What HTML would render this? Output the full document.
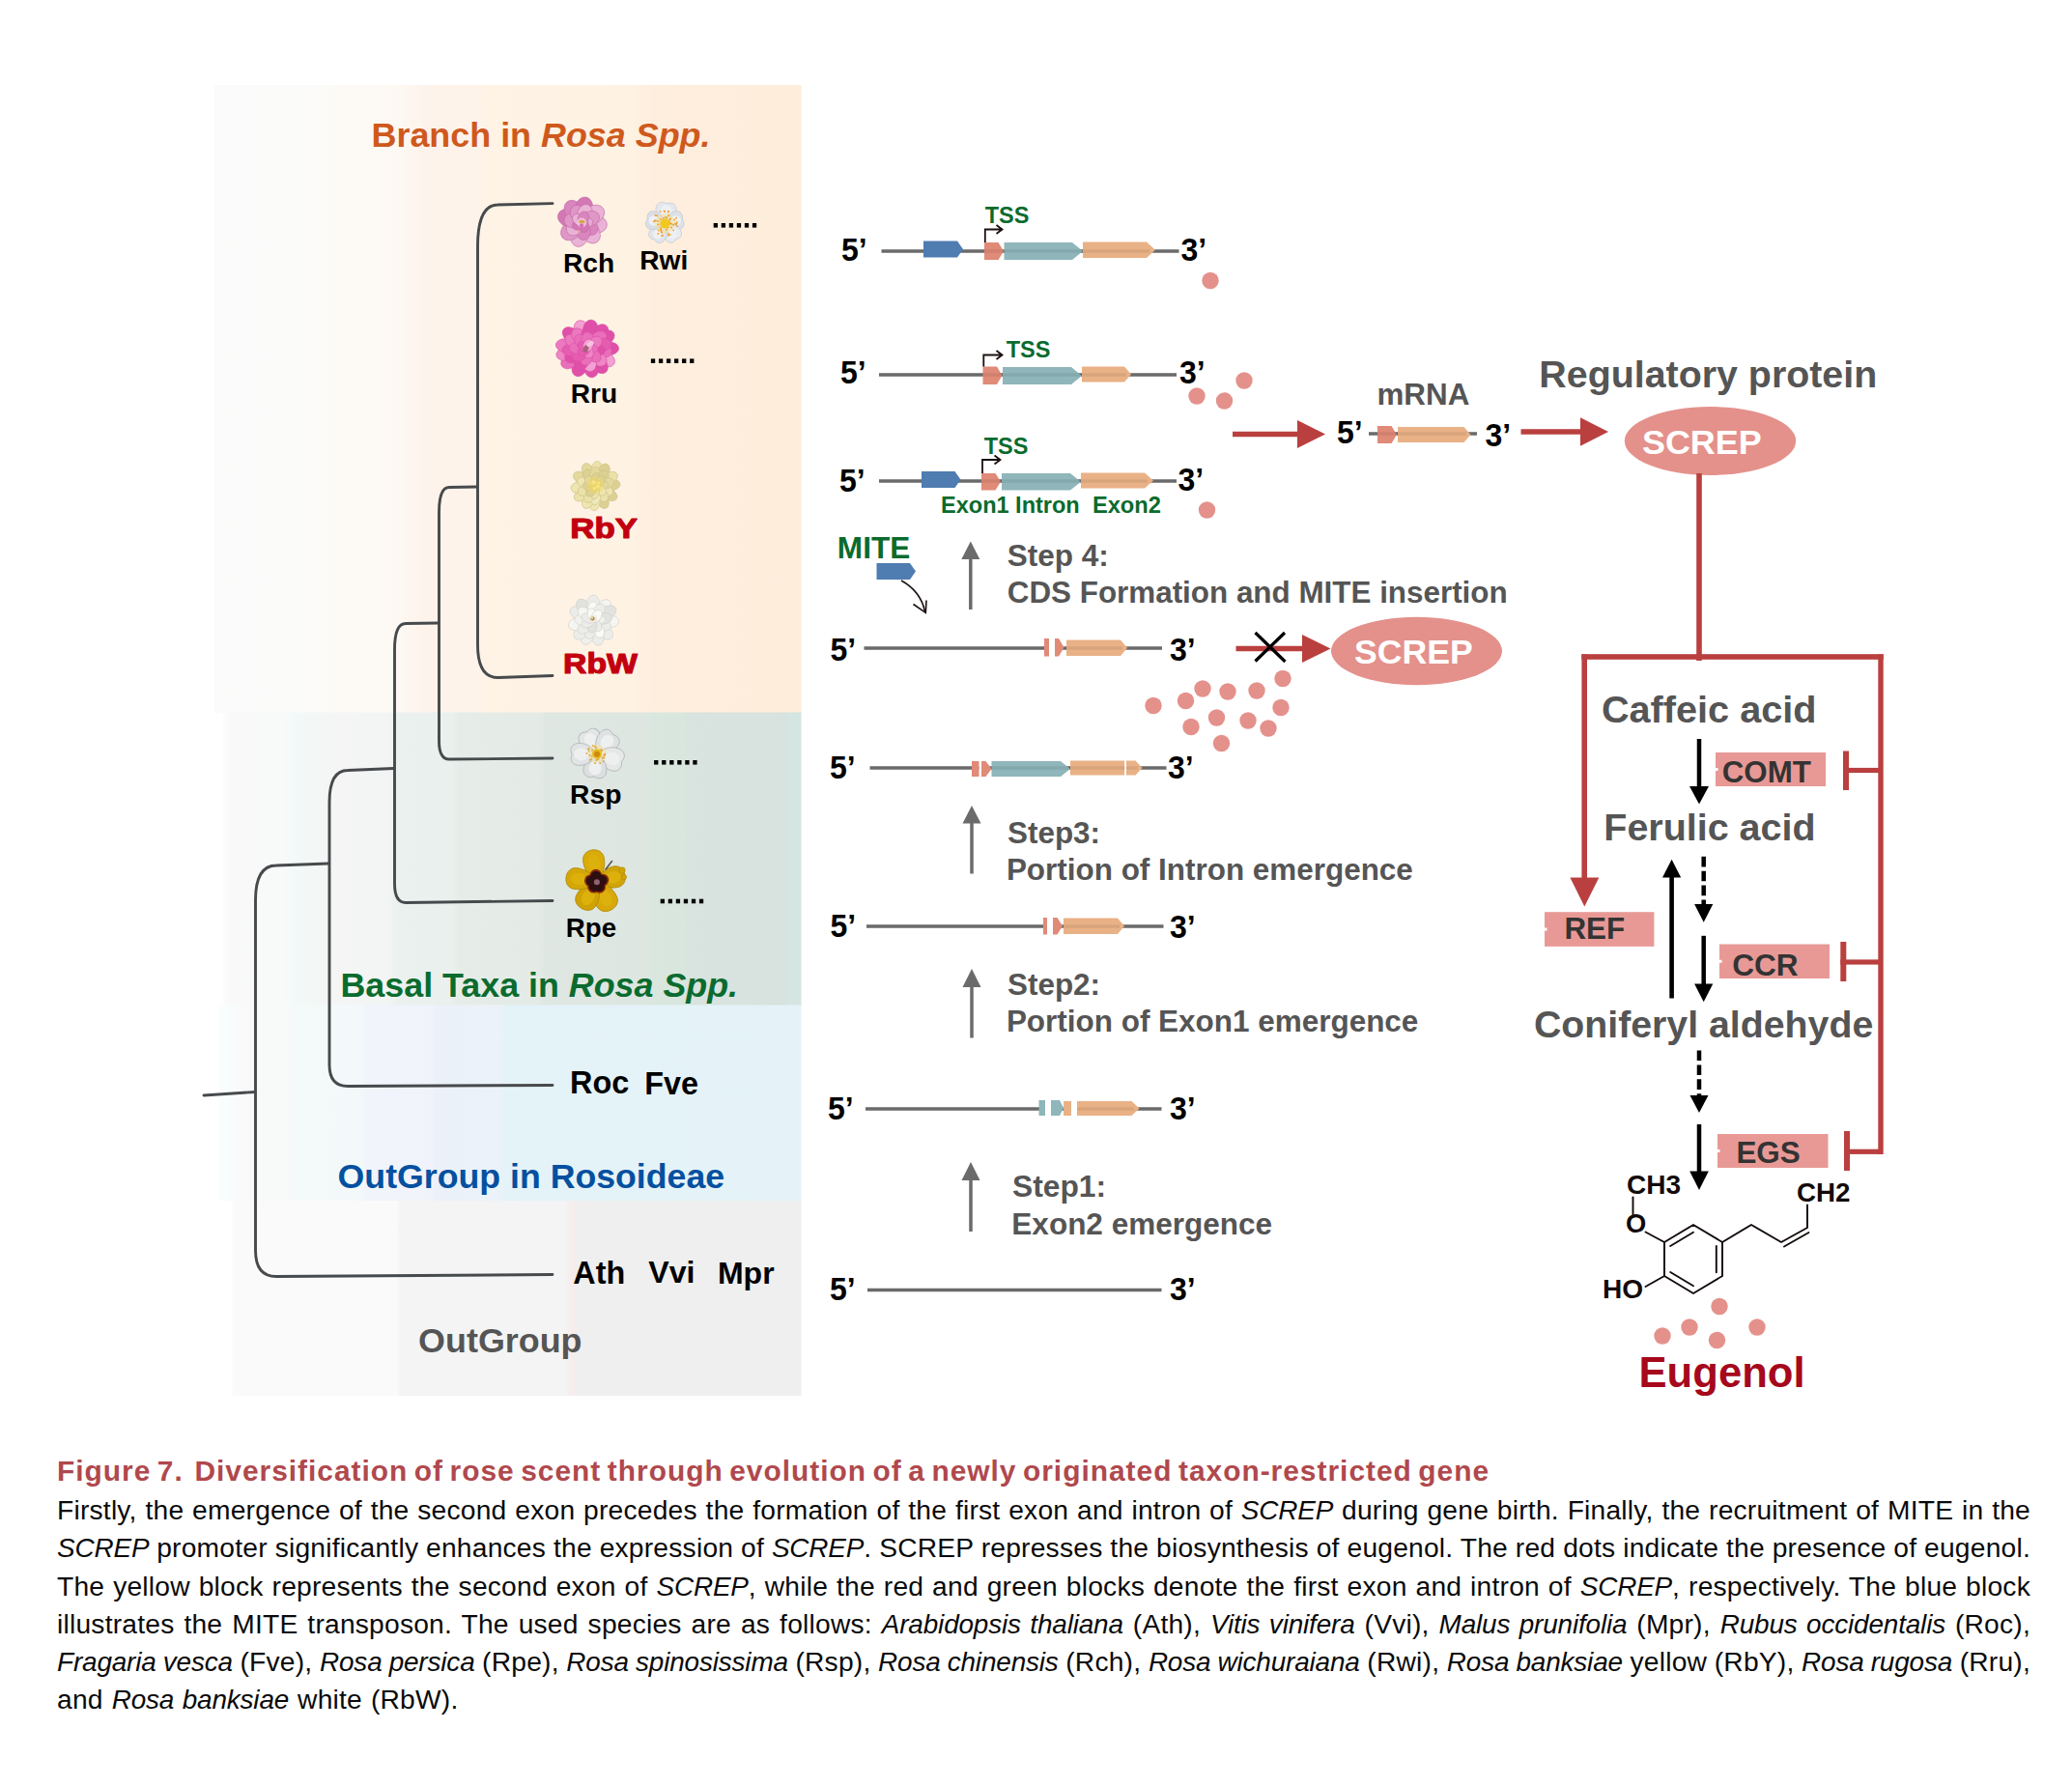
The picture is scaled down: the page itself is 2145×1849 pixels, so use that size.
<!DOCTYPE html>
<html><head><meta charset="utf-8"><title>Figure 7</title>
<style>
html,body{margin:0;padding:0;background:#fff}
body{width:2145px;height:1849px;position:relative;overflow:hidden;font-family:"Liberation Sans", sans-serif}
svg{position:absolute;left:0;top:0;font-family:"Liberation Sans", sans-serif}
.cl{position:absolute;left:59px;width:2043px;white-space:nowrap;font-size:28.2px;line-height:40px;height:40px;color:#0a0a0a;text-align:justify;text-align-last:justify;letter-spacing:0.22px}
.cl i{font-style:italic;letter-spacing:-0.15px;font-size:27.9px}
.ct{color:#b0484d;font-weight:bold;text-align:left;text-align-last:left;letter-spacing:1.0px;word-spacing:-2.8px}
</style></head><body>
<svg width="2145" height="1849" viewBox="0 0 2145 1849">
<defs>
<linearGradient id="gO" gradientUnits="userSpaceOnUse" x1="222" y1="0" x2="829.5" y2="0">
<stop offset="0.0000" stop-color="#fbfbfb"/>
<stop offset="0.1531" stop-color="#fbfbfa"/>
<stop offset="0.2025" stop-color="#fcfaf6"/>
<stop offset="0.3177" stop-color="#fdf8f2"/>
<stop offset="0.3588" stop-color="#fdf3eb"/>
<stop offset="0.4412" stop-color="#fdf3ea"/>
<stop offset="0.4658" stop-color="#fef3e5"/>
<stop offset="0.7128" stop-color="#fef2e3"/>
<stop offset="0.7457" stop-color="#feeedd"/>
<stop offset="1.0000" stop-color="#feeddb"/>
</linearGradient>
<linearGradient id="gG" gradientUnits="userSpaceOnUse" x1="231" y1="0" x2="829.5" y2="0">
<stop offset="0.0000" stop-color="#fdfdfd"/>
<stop offset="0.0117" stop-color="#f9f9f9"/>
<stop offset="0.1069" stop-color="#f8f9f9"/>
<stop offset="0.1236" stop-color="#f3f9f8"/>
<stop offset="0.1738" stop-color="#f3f6f5"/>
<stop offset="0.1905" stop-color="#f5f5f5"/>
<stop offset="0.2824" stop-color="#f2f5f4"/>
<stop offset="0.3024" stop-color="#ebf1ef"/>
<stop offset="0.3960" stop-color="#e9f0ed"/>
<stop offset="0.4077" stop-color="#e6ede9"/>
<stop offset="0.5464" stop-color="#e4ebe7"/>
<stop offset="0.5581" stop-color="#dfe7e3"/>
<stop offset="0.7368" stop-color="#dde6e1"/>
<stop offset="0.7435" stop-color="#d9e7de"/>
<stop offset="0.7970" stop-color="#d9e6de"/>
<stop offset="0.8037" stop-color="#d9e3df"/>
<stop offset="0.9708" stop-color="#d8e2de"/>
<stop offset="0.9774" stop-color="#d4e5e2"/>
<stop offset="1.0000" stop-color="#d4e5e2"/>
</linearGradient>
<linearGradient id="gB" gradientUnits="userSpaceOnUse" x1="227" y1="0" x2="829.5" y2="0">
<stop offset="0.0000" stop-color="#fbfefe"/>
<stop offset="0.0149" stop-color="#f7fdfd"/>
<stop offset="0.0299" stop-color="#fbfafb"/>
<stop offset="0.0465" stop-color="#f9f9f9"/>
<stop offset="0.1178" stop-color="#f8f9f9"/>
<stop offset="0.1278" stop-color="#f4faf9"/>
<stop offset="0.2407" stop-color="#f3f9fa"/>
<stop offset="0.2539" stop-color="#f1f4fb"/>
<stop offset="0.3635" stop-color="#f0f3fb"/>
<stop offset="0.3734" stop-color="#ebf1f9"/>
<stop offset="0.4813" stop-color="#ebf2f9"/>
<stop offset="0.4913" stop-color="#e4f3f8"/>
<stop offset="1.0000" stop-color="#e5f3f9"/>
</linearGradient>
<linearGradient id="gY" gradientUnits="userSpaceOnUse" x1="240.4" y1="0" x2="829.5" y2="0">
<stop offset="0.0000" stop-color="#fafafa"/>
<stop offset="0.2896" stop-color="#fafafa"/>
<stop offset="0.2930" stop-color="#faf3f3"/>
<stop offset="0.2981" stop-color="#f4f4f4"/>
<stop offset="0.5867" stop-color="#f4f4f4"/>
<stop offset="0.5901" stop-color="#f8eeee"/>
<stop offset="0.6036" stop-color="#f3eded"/>
<stop offset="0.6070" stop-color="#efefef"/>
<stop offset="1.0000" stop-color="#efefef"/>
</linearGradient>
</defs>
<rect x="222" y="88" width="607.5" height="650" fill="url(#gO)"/>
<rect x="231" y="737.5" width="598.5" height="303.5" fill="url(#gG)"/>
<rect x="227" y="1040.5" width="602.5" height="203" fill="url(#gB)"/>
<rect x="240.4" y="1243" width="589.1" height="202" fill="url(#gY)"/>
<path d="M572,210.6 L515.5,212 Q494.5,212 494.5,255 L494.5,667.5 Q494.5,701.5 515.5,701.5 L572,699.5" fill="none" stroke="#474a4c" stroke-width="2.9" stroke-linecap="round" stroke-linejoin="round"/>
<path d="M493.5,504 L465,504.5 Q454.5,504.5 454.5,530.5 L454.5,767 Q454.5,786 465,786 L572,785" fill="none" stroke="#474a4c" stroke-width="2.9" stroke-linecap="round" stroke-linejoin="round"/>
<path d="M453.5,645 L420,645.5 Q408.5,645.5 408.5,672.5 L408.5,914.5 Q408.5,934.5 420,934.5 L572,932.5" fill="none" stroke="#474a4c" stroke-width="2.9" stroke-linecap="round" stroke-linejoin="round"/>
<path d="M407.5,795.5 L360,797.5 Q341,797.5 341,830.5 L341,1102.5 Q341,1124.5 360,1124.5 L572,1123.5" fill="none" stroke="#474a4c" stroke-width="2.9" stroke-linecap="round" stroke-linejoin="round"/>
<path d="M340,894 L286,896 Q264.5,896 264.5,932 L264.5,1294.5 Q264.5,1321.5 286,1321.5 L572,1319.5" fill="none" stroke="#474a4c" stroke-width="2.9" stroke-linecap="round" stroke-linejoin="round"/>
<path d="M211,1134 L264,1130.5" stroke="#474a4c" stroke-width="2.9" stroke-linecap="round"/>
<g transform="translate(602.6 229.8) scale(1 1.0) translate(-602.6 -229.8)">
<ellipse cx="616.71" cy="232" rx="11.73" ry="9.18" transform="rotate(8.86 616.71 232)" fill="#e9b3d6" stroke="#c768a8" stroke-width="0.6"/>
<ellipse cx="611.28" cy="241.14" rx="11.73" ry="9.18" transform="rotate(52.57 611.28 241.14)" fill="#e9b3d6" stroke="#c768a8" stroke-width="0.6"/>
<ellipse cx="599.71" cy="243.78" rx="11.73" ry="9.18" transform="rotate(101.69 599.71 243.78)" fill="#e9b3d6" stroke="#c768a8" stroke-width="0.6"/>
<ellipse cx="591.38" cy="238.63" rx="11.73" ry="9.18" transform="rotate(141.79 591.38 238.63)" fill="#de97c6" stroke="#c768a8" stroke-width="0.6"/>
<ellipse cx="588.94" cy="225.65" rx="11.73" ry="9.18" transform="rotate(196.91 588.94 225.65)" fill="#d279b5" stroke="#c768a8" stroke-width="0.6"/>
<ellipse cx="594.23" cy="218.23" rx="11.73" ry="9.18" transform="rotate(234.11 594.23 218.23)" fill="#d886bd" stroke="#c768a8" stroke-width="0.6"/>
<ellipse cx="604.66" cy="215.67" rx="11.73" ry="9.18" transform="rotate(278.3 604.66 215.67)" fill="#d279b5" stroke="#c768a8" stroke-width="0.6"/>
<ellipse cx="614.64" cy="222.13" rx="11.73" ry="9.18" transform="rotate(327.49 614.64 222.13)" fill="#e9b3d6" stroke="#c768a8" stroke-width="0.6"/>
<ellipse cx="610.15" cy="235.03" rx="9.69" ry="7.65" transform="rotate(34.72 610.15 235.03)" fill="#d886bd" stroke="#c768a8" stroke-width="0.6"/>
<ellipse cx="603.69" cy="238.92" rx="9.69" ry="7.65" transform="rotate(83.21 603.69 238.92)" fill="#d886bd" stroke="#c768a8" stroke-width="0.6"/>
<ellipse cx="595.34" cy="235.42" rx="9.69" ry="7.65" transform="rotate(142.27 595.34 235.42)" fill="#e9b3d6" stroke="#c768a8" stroke-width="0.6"/>
<ellipse cx="593.51" cy="228.53" rx="9.69" ry="7.65" transform="rotate(187.96 593.51 228.53)" fill="#de97c6" stroke="#c768a8" stroke-width="0.6"/>
<ellipse cx="598.4" cy="221.64" rx="9.69" ry="7.65" transform="rotate(242.77 598.4 221.64)" fill="#de97c6" stroke="#c768a8" stroke-width="0.6"/>
<ellipse cx="605.45" cy="221.07" rx="9.69" ry="7.65" transform="rotate(288.06 605.45 221.07)" fill="#e9b3d6" stroke="#c768a8" stroke-width="0.6"/>
<ellipse cx="611.12" cy="226.37" rx="9.69" ry="7.65" transform="rotate(338.08 611.12 226.37)" fill="#de97c6" stroke="#c768a8" stroke-width="0.6"/>
<ellipse cx="606.67" cy="230.08" rx="7.14" ry="5.61" transform="rotate(3.88 606.67 230.08)" fill="#e6a9d1" stroke="#c768a8" stroke-width="0.6"/>
<ellipse cx="603.88" cy="233.67" rx="7.14" ry="5.61" transform="rotate(71.67 603.88 233.67)" fill="#d279b5" stroke="#c768a8" stroke-width="0.6"/>
<ellipse cx="599.2" cy="232.05" rx="7.14" ry="5.61" transform="rotate(146.57 599.2 232.05)" fill="#d279b5" stroke="#c768a8" stroke-width="0.6"/>
<ellipse cx="599.25" cy="227.48" rx="7.14" ry="5.61" transform="rotate(214.74 599.25 227.48)" fill="#e9b3d6" stroke="#c768a8" stroke-width="0.6"/>
<ellipse cx="603.82" cy="225.91" rx="7.14" ry="5.61" transform="rotate(287.34 603.82 225.91)" fill="#d886bd" stroke="#c768a8" stroke-width="0.6"/>
</g>
<circle cx="602.3" cy="230.5" r="5" fill="#efcadf" opacity="0.8"/>
<ellipse cx="602.4" cy="229.6" rx="3" ry="1.8" fill="#d9a544"/>
<circle cx="602" cy="233.6" r="2" fill="#d868b4"/>
<circle cx="599.5" cy="240" r="1" fill="#d9a544"/>
<g transform="translate(688.3 230.9) rotate(-85)"><path d="M0,0 C3.3,-5.25 7.26,-10.5 14.52,-10.5 C19.8,-10.5 22.88,-5.78 20.24,0 C22.88,5.78 19.8,10.5 14.52,10.5 C7.26,10.5 3.3,5.25 0,0Z" fill="#e4e8ee" stroke="#c2c8d1" stroke-width="0.7"/><ellipse cx="12.76" cy="0" rx="5.94" ry="5.78" fill="#eef0f4"/></g>
<g transform="translate(688.3 230.9) rotate(-12)"><path d="M0,0 C3,-4.75 6.6,-9.5 13.2,-9.5 C18,-9.5 20.8,-5.23 18.4,0 C20.8,5.23 18,9.5 13.2,9.5 C6.6,9.5 3,4.75 0,0Z" fill="#dde2e9" stroke="#c2c8d1" stroke-width="0.7"/><ellipse cx="11.6" cy="0" rx="5.4" ry="5.23" fill="#eef0f4"/></g>
<g transform="translate(688.3 230.9) rotate(55)"><path d="M0,0 C3.3,-4.5 7.26,-9 14.52,-9 C19.8,-9 22.88,-4.95 20.24,0 C22.88,4.95 19.8,9 14.52,9 C7.26,9 3.3,4.5 0,0Z" fill="#e8ebf0" stroke="#c2c8d1" stroke-width="0.7"/><ellipse cx="12.76" cy="0" rx="5.94" ry="4.95" fill="#eef0f4"/></g>
<g transform="translate(688.3 230.9) rotate(122)"><path d="M0,0 C3.3,-4.5 7.26,-9 14.52,-9 C19.8,-9 22.88,-4.95 20.24,0 C22.88,4.95 19.8,9 14.52,9 C7.26,9 3.3,4.5 0,0Z" fill="#e1e5ec" stroke="#c2c8d1" stroke-width="0.7"/><ellipse cx="12.76" cy="0" rx="5.94" ry="4.95" fill="#eef0f4"/></g>
<g transform="translate(688.3 230.9) rotate(192)"><path d="M0,0 C3,-4.75 6.6,-9.5 13.2,-9.5 C18,-9.5 20.8,-5.23 18.4,0 C20.8,5.23 18,9.5 13.2,9.5 C6.6,9.5 3,4.75 0,0Z" fill="#dadfe7" stroke="#c2c8d1" stroke-width="0.7"/><ellipse cx="11.6" cy="0" rx="5.4" ry="5.23" fill="#eef0f4"/></g>
<circle cx="688.3" cy="231.2" r="10.5" fill="#f5dc7c" opacity="0.40"/>
<circle cx="680.2" cy="223.31" r="0.95" fill="#f0a030"/>
<circle cx="691.95" cy="218.71" r="0.95" fill="#f0a030"/>
<circle cx="687.49" cy="218.39" r="0.95" fill="#f0a030"/>
<circle cx="697.11" cy="232.82" r="0.95" fill="#f0a030"/>
<circle cx="698.16" cy="227.54" r="0.95" fill="#f0a030"/>
<circle cx="693.14" cy="227.72" r="0.95" fill="#f0a030"/>
<circle cx="681.34" cy="232.57" r="0.95" fill="#f0a030"/>
<circle cx="678.79" cy="228.52" r="0.95" fill="#f0a030"/>
<circle cx="695.12" cy="231.76" r="0.95" fill="#f0a030"/>
<circle cx="685.94" cy="243.77" r="0.95" fill="#f0a030"/>
<circle cx="688.93" cy="224.87" r="0.95" fill="#f0a030"/>
<circle cx="690.1" cy="225.29" r="0.95" fill="#f0a030"/>
<circle cx="683.8" cy="227.11" r="0.95" fill="#f0a030"/>
<circle cx="700.71" cy="231.34" r="0.95" fill="#f0a030"/>
<circle cx="690.02" cy="237.81" r="0.95" fill="#f0a030"/>
<circle cx="700.64" cy="229.83" r="0.95" fill="#f0a030"/>
<circle cx="685.08" cy="243.97" r="0.95" fill="#f0a030"/>
<circle cx="677.86" cy="228.57" r="0.95" fill="#f0a030"/>
<circle cx="691.94" cy="243.68" r="0.95" fill="#f0a030"/>
<circle cx="683.48" cy="218.89" r="0.95" fill="#f0a030"/>
<circle cx="694.22" cy="226.53" r="0.95" fill="#f0a030"/>
<circle cx="684.18" cy="236.11" r="0.95" fill="#f0a030"/>
<circle cx="691.68" cy="235.6" r="0.95" fill="#f0a030"/>
<circle cx="685.09" cy="240.8" r="0.95" fill="#f0a030"/>
<circle cx="699.06" cy="231.43" r="0.95" fill="#f0a030"/>
<circle cx="684.29" cy="237.7" r="0.95" fill="#f0a030"/>
<circle cx="692.09" cy="222.94" r="0.95" fill="#f0a030"/>
<circle cx="684.65" cy="239.52" r="0.95" fill="#f0a030"/>
<circle cx="686.76" cy="225.94" r="0.95" fill="#f0a030"/>
<circle cx="693.43" cy="230.39" r="0.95" fill="#f0a030"/>
<circle cx="688.28" cy="219.02" r="0.95" fill="#f0a030"/>
<circle cx="699.92" cy="232.52" r="0.95" fill="#f0a030"/>
<circle cx="681.69" cy="238.59" r="0.95" fill="#f0a030"/>
<circle cx="693.69" cy="231.51" r="0.95" fill="#f0a030"/>
<circle cx="693.82" cy="243.1" r="0.95" fill="#f0a030"/>
<circle cx="692.07" cy="241.98" r="0.95" fill="#f0a030"/>
<circle cx="700.06" cy="225.64" r="0.95" fill="#f0a030"/>
<circle cx="683.82" cy="237.85" r="0.95" fill="#f0a030"/>
<circle cx="676.85" cy="229.41" r="0.95" fill="#f0a030"/>
<circle cx="697.14" cy="238.33" r="0.95" fill="#f0a030"/>
<circle cx="691.9" cy="219.43" r="0.95" fill="#f0a030"/>
<circle cx="701" cy="234.17" r="0.95" fill="#f0a030"/>
<circle cx="694.94" cy="235.48" r="0.95" fill="#f0a030"/>
<circle cx="678.48" cy="222.99" r="0.95" fill="#f0a030"/>
<circle cx="681.41" cy="242.06" r="0.95" fill="#f0a030"/>
<circle cx="680.95" cy="229.06" r="0.95" fill="#f0a030"/>
<circle cx="688.3" cy="231.4" r="5" fill="#f2c81f"/>
<g transform="translate(607.8 361) scale(1 0.92) translate(-607.8 -361)">
<ellipse cx="630.55" cy="360.77" rx="10.07" ry="7.48" transform="rotate(-0.57 630.55 360.77)" fill="#e050a8" stroke="#d94fa4" stroke-width="0.6"/>
<ellipse cx="627.1" cy="373.05" rx="10.07" ry="7.48" transform="rotate(31.97 627.1 373.05)" fill="#f3a0d2" stroke="#d94fa4" stroke-width="0.6"/>
<ellipse cx="620.91" cy="379.59" rx="10.07" ry="7.48" transform="rotate(54.81 620.91 379.59)" fill="#e050a8" stroke="#d94fa4" stroke-width="0.6"/>
<ellipse cx="612" cy="383.36" rx="10.07" ry="7.48" transform="rotate(79.36 612 383.36)" fill="#e050a8" stroke="#d94fa4" stroke-width="0.6"/>
<ellipse cx="599.84" cy="382.31" rx="10.07" ry="7.48" transform="rotate(110.48 599.84 382.31)" fill="#e050a8" stroke="#d94fa4" stroke-width="0.6"/>
<ellipse cx="589.88" cy="375.01" rx="10.07" ry="7.48" transform="rotate(141.98 589.88 375.01)" fill="#ea6fbb" stroke="#d94fa4" stroke-width="0.6"/>
<ellipse cx="585.77" cy="366.69" rx="10.07" ry="7.48" transform="rotate(165.51 585.77 366.69)" fill="#ef86c6" stroke="#d94fa4" stroke-width="0.6"/>
<ellipse cx="585.33" cy="357.47" rx="10.07" ry="7.48" transform="rotate(188.93 585.33 357.47)" fill="#ec78c0" stroke="#d94fa4" stroke-width="0.6"/>
<ellipse cx="591.2" cy="345.44" rx="10.07" ry="7.48" transform="rotate(223.15 591.2 345.44)" fill="#e050a8" stroke="#d94fa4" stroke-width="0.6"/>
<ellipse cx="601.92" cy="339.02" rx="10.07" ry="7.48" transform="rotate(255.02 601.92 339.02)" fill="#f3a0d2" stroke="#d94fa4" stroke-width="0.6"/>
<ellipse cx="611.27" cy="338.52" rx="10.07" ry="7.48" transform="rotate(278.77 611.27 338.52)" fill="#e050a8" stroke="#d94fa4" stroke-width="0.6"/>
<ellipse cx="621.31" cy="342.69" rx="10.07" ry="7.48" transform="rotate(306.42 621.31 342.69)" fill="#e050a8" stroke="#d94fa4" stroke-width="0.6"/>
<ellipse cx="626.77" cy="348.44" rx="10.07" ry="7.48" transform="rotate(326.49 626.77 348.44)" fill="#e050a8" stroke="#d94fa4" stroke-width="0.6"/>
<ellipse cx="623.81" cy="363.75" rx="9.75" ry="7.15" transform="rotate(9.76 623.81 363.75)" fill="#ea6fbb" stroke="#d94fa4" stroke-width="0.6"/>
<ellipse cx="619.49" cy="372.29" rx="9.75" ry="7.15" transform="rotate(44.01 619.49 372.29)" fill="#ef86c6" stroke="#d94fa4" stroke-width="0.6"/>
<ellipse cx="610.16" cy="377.08" rx="9.75" ry="7.15" transform="rotate(81.65 610.16 377.08)" fill="#f3a0d2" stroke="#d94fa4" stroke-width="0.6"/>
<ellipse cx="601.95" cy="376.16" rx="9.75" ry="7.15" transform="rotate(111.1 601.95 376.16)" fill="#e050a8" stroke="#d94fa4" stroke-width="0.6"/>
<ellipse cx="593.72" cy="369.12" rx="9.75" ry="7.15" transform="rotate(150.02 593.72 369.12)" fill="#e050a8" stroke="#d94fa4" stroke-width="0.6"/>
<ellipse cx="591.6" cy="362.29" rx="9.75" ry="7.15" transform="rotate(175.44 591.6 362.29)" fill="#e65cb0" stroke="#d94fa4" stroke-width="0.6"/>
<ellipse cx="593.92" cy="352.54" rx="9.75" ry="7.15" transform="rotate(211.36 593.92 352.54)" fill="#ec78c0" stroke="#d94fa4" stroke-width="0.6"/>
<ellipse cx="599.46" cy="347.05" rx="9.75" ry="7.15" transform="rotate(239.11 599.46 347.05)" fill="#ec78c0" stroke="#d94fa4" stroke-width="0.6"/>
<ellipse cx="608.98" cy="344.79" rx="9.75" ry="7.15" transform="rotate(274.16 608.98 344.79)" fill="#e050a8" stroke="#d94fa4" stroke-width="0.6"/>
<ellipse cx="619.39" cy="349.61" rx="9.75" ry="7.15" transform="rotate(315.49 619.39 349.61)" fill="#ea6fbb" stroke="#d94fa4" stroke-width="0.6"/>
<ellipse cx="623.48" cy="356.73" rx="9.75" ry="7.15" transform="rotate(344.77 623.48 356.73)" fill="#e65cb0" stroke="#d94fa4" stroke-width="0.6"/>
<ellipse cx="617.45" cy="362.37" rx="9.1" ry="6.5" transform="rotate(8.1 617.45 362.37)" fill="#e050a8" stroke="#d94fa4" stroke-width="0.6"/>
<ellipse cx="614.39" cy="368.18" rx="9.1" ry="6.5" transform="rotate(47.47 614.39 368.18)" fill="#ea6fbb" stroke="#d94fa4" stroke-width="0.6"/>
<ellipse cx="606.82" cy="370.7" rx="9.1" ry="6.5" transform="rotate(95.76 606.82 370.7)" fill="#ea6fbb" stroke="#d94fa4" stroke-width="0.6"/>
<ellipse cx="600.46" cy="367.42" rx="9.1" ry="6.5" transform="rotate(138.8 600.46 367.42)" fill="#e65cb0" stroke="#d94fa4" stroke-width="0.6"/>
<ellipse cx="598.07" cy="360.38" rx="9.1" ry="6.5" transform="rotate(183.64 598.07 360.38)" fill="#ea6fbb" stroke="#d94fa4" stroke-width="0.6"/>
<ellipse cx="602.09" cy="353.1" rx="9.1" ry="6.5" transform="rotate(234.17 602.09 353.1)" fill="#ea6fbb" stroke="#d94fa4" stroke-width="0.6"/>
<ellipse cx="608.07" cy="351.25" rx="9.1" ry="6.5" transform="rotate(271.56 608.07 351.25)" fill="#ea6fbb" stroke="#d94fa4" stroke-width="0.6"/>
<ellipse cx="615.23" cy="354.69" rx="9.1" ry="6.5" transform="rotate(319.64 615.23 354.69)" fill="#ec78c0" stroke="#d94fa4" stroke-width="0.6"/>
<ellipse cx="611.7" cy="360.92" rx="7.15" ry="5.2" transform="rotate(-1.23 611.7 360.92)" fill="#ea6fbb" stroke="#d94fa4" stroke-width="0.6"/>
<ellipse cx="608.95" cy="364.73" rx="7.15" ry="5.2" transform="rotate(72.79 608.95 364.73)" fill="#ef86c6" stroke="#d94fa4" stroke-width="0.6"/>
<ellipse cx="604.52" cy="363.1" rx="7.15" ry="5.2" transform="rotate(147.34 604.52 363.1)" fill="#e65cb0" stroke="#d94fa4" stroke-width="0.6"/>
<ellipse cx="604.57" cy="358.82" rx="7.15" ry="5.2" transform="rotate(214.04 604.57 358.82)" fill="#e65cb0" stroke="#d94fa4" stroke-width="0.6"/>
<ellipse cx="608.87" cy="357.25" rx="7.15" ry="5.2" transform="rotate(285.99 608.87 357.25)" fill="#f3a0d2" stroke="#d94fa4" stroke-width="0.6"/>
</g>
<ellipse cx="606.5" cy="361" rx="2.6" ry="4.2" fill="#a8607c" transform="rotate(20 606.5 361)"/>
<ellipse cx="611" cy="356" rx="4" ry="2.4" fill="#f7c3e2" transform="rotate(-30 611 356)"/>
<g transform="translate(616.4 503) scale(1 1.0) translate(-616.4 -503)">
<ellipse cx="633.12" cy="501.82" rx="8.89" ry="5.84" transform="rotate(-4.02 633.12 501.82)" fill="#dcd192" stroke="#cbc088" stroke-width="0.6"/>
<ellipse cx="630.68" cy="511.79" rx="8.89" ry="5.84" transform="rotate(31.62 630.68 511.79)" fill="#dcd192" stroke="#cbc088" stroke-width="0.6"/>
<ellipse cx="623.72" cy="518.08" rx="8.89" ry="5.84" transform="rotate(64.12 623.72 518.08)" fill="#dcd192" stroke="#cbc088" stroke-width="0.6"/>
<ellipse cx="615.32" cy="519.73" rx="8.89" ry="5.84" transform="rotate(93.69 615.32 519.73)" fill="#eee5b0" stroke="#cbc088" stroke-width="0.6"/>
<ellipse cx="609" cy="518.04" rx="8.89" ry="5.84" transform="rotate(116.2 609 518.04)" fill="#eee5b0" stroke="#cbc088" stroke-width="0.6"/>
<ellipse cx="602.37" cy="512.17" rx="8.89" ry="5.84" transform="rotate(146.83 602.37 512.17)" fill="#ebe2aa" stroke="#cbc088" stroke-width="0.6"/>
<ellipse cx="599.72" cy="504.7" rx="8.89" ry="5.84" transform="rotate(174.17 599.72 504.7)" fill="#eee5b0" stroke="#cbc088" stroke-width="0.6"/>
<ellipse cx="601.76" cy="494.84" rx="8.89" ry="5.84" transform="rotate(209.14 601.76 494.84)" fill="#e3d99c" stroke="#cbc088" stroke-width="0.6"/>
<ellipse cx="608.93" cy="487.99" rx="8.89" ry="5.84" transform="rotate(243.53 608.93 487.99)" fill="#e3d99c" stroke="#cbc088" stroke-width="0.6"/>
<ellipse cx="617.88" cy="486.3" rx="8.89" ry="5.84" transform="rotate(275.06 617.88 486.3)" fill="#ebe2aa" stroke="#cbc088" stroke-width="0.6"/>
<ellipse cx="624.59" cy="488.37" rx="8.89" ry="5.84" transform="rotate(299.24 624.59 488.37)" fill="#dcd192" stroke="#cbc088" stroke-width="0.6"/>
<ellipse cx="631.12" cy="494.97" rx="8.89" ry="5.84" transform="rotate(331.39 631.12 494.97)" fill="#ebe2aa" stroke="#cbc088" stroke-width="0.6"/>
<ellipse cx="626.88" cy="507.55" rx="8.13" ry="5.59" transform="rotate(23.48 626.88 507.55)" fill="#eee5b0" stroke="#cbc088" stroke-width="0.6"/>
<ellipse cx="623.12" cy="512.24" rx="8.13" ry="5.59" transform="rotate(53.97 623.12 512.24)" fill="#ebe2aa" stroke="#cbc088" stroke-width="0.6"/>
<ellipse cx="616.04" cy="514.42" rx="8.13" ry="5.59" transform="rotate(91.79 616.04 514.42)" fill="#f0e8bc" stroke="#cbc088" stroke-width="0.6"/>
<ellipse cx="610.64" cy="512.87" rx="8.13" ry="5.59" transform="rotate(120.28 610.64 512.87)" fill="#ebe2aa" stroke="#cbc088" stroke-width="0.6"/>
<ellipse cx="605.84" cy="507.37" rx="8.13" ry="5.59" transform="rotate(157.5 605.84 507.37)" fill="#ebe2aa" stroke="#cbc088" stroke-width="0.6"/>
<ellipse cx="605.5" cy="499.57" rx="8.13" ry="5.59" transform="rotate(197.44 605.5 499.57)" fill="#eee5b0" stroke="#cbc088" stroke-width="0.6"/>
<ellipse cx="610.13" cy="493.44" rx="8.13" ry="5.59" transform="rotate(236.74 610.13 493.44)" fill="#dcd192" stroke="#cbc088" stroke-width="0.6"/>
<ellipse cx="616.36" cy="491.57" rx="8.13" ry="5.59" transform="rotate(269.82 616.36 491.57)" fill="#e3d99c" stroke="#cbc088" stroke-width="0.6"/>
<ellipse cx="623.43" cy="493.99" rx="8.13" ry="5.59" transform="rotate(307.98 623.43 493.99)" fill="#dcd192" stroke="#cbc088" stroke-width="0.6"/>
<ellipse cx="627.51" cy="500.31" rx="8.13" ry="5.59" transform="rotate(346.39 627.51 500.31)" fill="#e3d99c" stroke="#cbc088" stroke-width="0.6"/>
<ellipse cx="622.98" cy="502.41" rx="6.86" ry="4.83" transform="rotate(-5.1 622.98 502.41)" fill="#e3d99c" stroke="#cbc088" stroke-width="0.6"/>
<ellipse cx="621.35" cy="507.38" rx="6.86" ry="4.83" transform="rotate(41.5 621.35 507.38)" fill="#eee5b0" stroke="#cbc088" stroke-width="0.6"/>
<ellipse cx="615.73" cy="509.57" rx="6.86" ry="4.83" transform="rotate(95.87 615.73 509.57)" fill="#ebe2aa" stroke="#cbc088" stroke-width="0.6"/>
<ellipse cx="612.11" cy="508.02" rx="6.86" ry="4.83" transform="rotate(130.47 612.11 508.02)" fill="#dcd192" stroke="#cbc088" stroke-width="0.6"/>
<ellipse cx="609.8" cy="502.92" rx="6.86" ry="4.83" transform="rotate(180.71 609.8 502.92)" fill="#dcd192" stroke="#cbc088" stroke-width="0.6"/>
<ellipse cx="611.45" cy="498.63" rx="6.86" ry="4.83" transform="rotate(221.41 611.45 498.63)" fill="#e3d99c" stroke="#cbc088" stroke-width="0.6"/>
<ellipse cx="616.94" cy="496.42" rx="6.86" ry="4.83" transform="rotate(274.65 616.94 496.42)" fill="#dcd192" stroke="#cbc088" stroke-width="0.6"/>
<ellipse cx="620.86" cy="498.13" rx="6.86" ry="4.83" transform="rotate(312.5 620.86 498.13)" fill="#dcd192" stroke="#cbc088" stroke-width="0.6"/>
</g>
<circle cx="616.5" cy="502.5" r="9" fill="#f0d664" opacity="0.45"/>
<circle cx="616.5" cy="502.5" r="5.5" fill="#efd462" opacity="0.8"/>
<circle cx="614.5" cy="499.5" r="2.2" fill="#f5e388"/>
<circle cx="619" cy="503.5" r="2" fill="#f5e388"/>
<circle cx="615.5" cy="505.5" r="1.8" fill="#f5e388"/>
<circle cx="619.5" cy="500" r="1.6" fill="#f5e388"/>
<g transform="translate(614.2 642.4) scale(1 1.0) translate(-614.2 -642.4)">
<ellipse cx="630.96" cy="643.03" rx="9.69" ry="6.55" transform="rotate(2.15 630.96 643.03)" fill="#f5f5f1" stroke="#cfcfca" stroke-width="0.6"/>
<ellipse cx="626.28" cy="654.03" rx="9.69" ry="6.55" transform="rotate(43.89 626.28 654.03)" fill="#ececea" stroke="#cfcfca" stroke-width="0.6"/>
<ellipse cx="618.35" cy="658.65" rx="9.69" ry="6.55" transform="rotate(75.66 618.35 658.65)" fill="#ececea" stroke="#cfcfca" stroke-width="0.6"/>
<ellipse cx="608.03" cy="657.99" rx="9.69" ry="6.55" transform="rotate(111.59 608.03 657.99)" fill="#f0f0ec" stroke="#cfcfca" stroke-width="0.6"/>
<ellipse cx="602.2" cy="654.11" rx="9.69" ry="6.55" transform="rotate(135.69 602.2 654.11)" fill="#ececea" stroke="#cfcfca" stroke-width="0.6"/>
<ellipse cx="597.84" cy="646.06" rx="9.69" ry="6.55" transform="rotate(167.41 597.84 646.06)" fill="#f5f5f1" stroke="#cfcfca" stroke-width="0.6"/>
<ellipse cx="599.17" cy="634.97" rx="9.69" ry="6.55" transform="rotate(206.31 599.17 634.97)" fill="#ececea" stroke="#cfcfca" stroke-width="0.6"/>
<ellipse cx="604.31" cy="628.86" rx="9.69" ry="6.55" transform="rotate(233.86 604.31 628.86)" fill="#e2e2df" stroke="#cfcfca" stroke-width="0.6"/>
<ellipse cx="614.24" cy="625.63" rx="9.69" ry="6.55" transform="rotate(270.13 614.24 625.63)" fill="#ececea" stroke="#cfcfca" stroke-width="0.6"/>
<ellipse cx="624.64" cy="629.28" rx="9.69" ry="6.55" transform="rotate(308.5 624.64 629.28)" fill="#f5f5f1" stroke="#cfcfca" stroke-width="0.6"/>
<ellipse cx="628.82" cy="634.19" rx="9.69" ry="6.55" transform="rotate(330.69 628.82 634.19)" fill="#e2e2df" stroke="#cfcfca" stroke-width="0.6"/>
<ellipse cx="624.32" cy="646.72" rx="8.65" ry="5.76" transform="rotate(23.1 624.32 646.72)" fill="#ececea" stroke="#cfcfca" stroke-width="0.6"/>
<ellipse cx="619.2" cy="652.2" rx="8.65" ry="5.76" transform="rotate(62.96 619.2 652.2)" fill="#f9f9f6" stroke="#cfcfca" stroke-width="0.6"/>
<ellipse cx="611.14" cy="652.97" rx="8.65" ry="5.76" transform="rotate(106.16 611.14 652.97)" fill="#ececea" stroke="#cfcfca" stroke-width="0.6"/>
<ellipse cx="605.59" cy="649.25" rx="8.65" ry="5.76" transform="rotate(141.52 605.59 649.25)" fill="#ececea" stroke="#cfcfca" stroke-width="0.6"/>
<ellipse cx="603.22" cy="641.63" rx="8.65" ry="5.76" transform="rotate(184 603.22 641.63)" fill="#f0f0ec" stroke="#cfcfca" stroke-width="0.6"/>
<ellipse cx="605.74" cy="635.37" rx="8.65" ry="5.76" transform="rotate(219.72 605.74 635.37)" fill="#f5f5f1" stroke="#cfcfca" stroke-width="0.6"/>
<ellipse cx="614.02" cy="631.4" rx="8.65" ry="5.76" transform="rotate(269.06 614.02 631.4)" fill="#f9f9f6" stroke="#cfcfca" stroke-width="0.6"/>
<ellipse cx="619.8" cy="632.93" rx="8.65" ry="5.76" transform="rotate(300.62 619.8 632.93)" fill="#ececea" stroke="#cfcfca" stroke-width="0.6"/>
<ellipse cx="625" cy="640.31" rx="8.65" ry="5.76" transform="rotate(349.04 625 640.31)" fill="#e2e2df" stroke="#cfcfca" stroke-width="0.6"/>
<ellipse cx="619.94" cy="641.83" rx="7.07" ry="4.72" transform="rotate(-5.64 619.94 641.83)" fill="#f0f0ec" stroke="#cfcfca" stroke-width="0.6"/>
<ellipse cx="617.44" cy="647.17" rx="7.07" ry="4.72" transform="rotate(55.85 617.44 647.17)" fill="#ececea" stroke="#cfcfca" stroke-width="0.6"/>
<ellipse cx="613.26" cy="648.09" rx="7.07" ry="4.72" transform="rotate(99.35 613.26 648.09)" fill="#e2e2df" stroke="#cfcfca" stroke-width="0.6"/>
<ellipse cx="608.89" cy="644.65" rx="7.07" ry="4.72" transform="rotate(157.04 608.89 644.65)" fill="#ececea" stroke="#cfcfca" stroke-width="0.6"/>
<ellipse cx="608.92" cy="640.08" rx="7.07" ry="4.72" transform="rotate(203.68 608.92 640.08)" fill="#ececea" stroke="#cfcfca" stroke-width="0.6"/>
<ellipse cx="612.9" cy="636.79" rx="7.07" ry="4.72" transform="rotate(256.93 612.9 636.79)" fill="#f9f9f6" stroke="#cfcfca" stroke-width="0.6"/>
<ellipse cx="617.64" cy="637.77" rx="7.07" ry="4.72" transform="rotate(306.6 617.64 637.77)" fill="#f9f9f6" stroke="#cfcfca" stroke-width="0.6"/>
</g>
<circle cx="613.8" cy="640.8" r="4" fill="#efe9d6"/>
<circle cx="613.5" cy="640.5" r="2.1" fill="#a88b52"/>
<circle cx="613" cy="640" r="0.9" fill="#f3ecd8"/>
<g transform="translate(618 780.3) rotate(-115)"><path d="M0,0 C4.05,-5.75 8.91,-11.5 17.82,-11.5 C24.3,-11.5 28.08,-6.33 24.84,0 C28.08,6.33 24.3,11.5 17.82,11.5 C8.91,11.5 4.05,5.75 0,0Z" fill="#e3e6e6" stroke="#b4b9b9" stroke-width="0.9"/><ellipse cx="15.66" cy="0" rx="7.29" ry="6.33" fill="#eef0f0"/></g>
<g transform="translate(618 780.3) rotate(-50)"><path d="M0,0 C4.2,-5.75 9.24,-11.5 18.48,-11.5 C25.2,-11.5 29.12,-6.33 25.76,0 C29.12,6.33 25.2,11.5 18.48,11.5 C9.24,11.5 4.2,5.75 0,0Z" fill="#dfe2e3" stroke="#b4b9b9" stroke-width="0.9"/><ellipse cx="16.24" cy="0" rx="7.56" ry="6.33" fill="#eef0f0"/></g>
<g transform="translate(618 780.3) rotate(18)"><path d="M0,0 C4.35,-6 9.57,-12 19.14,-12 C26.1,-12 30.16,-6.6 26.68,0 C30.16,6.6 26.1,12 19.14,12 C9.57,12 4.35,6 0,0Z" fill="#e6e8e8" stroke="#b4b9b9" stroke-width="0.9"/><ellipse cx="16.82" cy="0" rx="7.83" ry="6.6" fill="#eef0f0"/></g>
<g transform="translate(618 780.3) rotate(97)"><path d="M0,0 C3.9,-6 8.58,-12 17.16,-12 C23.4,-12 27.04,-6.6 23.92,0 C27.04,6.6 23.4,12 17.16,12 C8.58,12 3.9,6 0,0Z" fill="#dcdfe0" stroke="#b4b9b9" stroke-width="0.9"/><ellipse cx="15.08" cy="0" rx="7.02" ry="6.6" fill="#eef0f0"/></g>
<g transform="translate(618 780.3) rotate(178)"><path d="M0,0 C4.2,-5.75 9.24,-11.5 18.48,-11.5 C25.2,-11.5 29.12,-6.33 25.76,0 C29.12,6.33 25.2,11.5 18.48,11.5 C9.24,11.5 4.2,5.75 0,0Z" fill="#e1e4e4" stroke="#b4b9b9" stroke-width="0.9"/><ellipse cx="16.24" cy="0" rx="7.56" ry="6.33" fill="#eef0f0"/></g>
<circle cx="618" cy="780.3" r="9.5" fill="#f3e3a8" opacity="0.55"/>
<circle cx="610.65" cy="782.04" r="0.95" fill="#e2a43a"/>
<circle cx="624.62" cy="788.15" r="0.95" fill="#e2a43a"/>
<circle cx="626.26" cy="780.63" r="0.95" fill="#e2a43a"/>
<circle cx="622.77" cy="776.75" r="0.95" fill="#e2a43a"/>
<circle cx="609.62" cy="777.33" r="0.95" fill="#e2a43a"/>
<circle cx="625.34" cy="782.23" r="0.95" fill="#e2a43a"/>
<circle cx="615.7" cy="772.65" r="0.95" fill="#e2a43a"/>
<circle cx="617.01" cy="774.01" r="0.95" fill="#e2a43a"/>
<circle cx="618.46" cy="786.39" r="0.95" fill="#e2a43a"/>
<circle cx="607.43" cy="779.88" r="0.95" fill="#e2a43a"/>
<circle cx="609.78" cy="775.05" r="0.95" fill="#e2a43a"/>
<circle cx="610.85" cy="786.71" r="0.95" fill="#e2a43a"/>
<circle cx="623.7" cy="784.53" r="0.95" fill="#e2a43a"/>
<circle cx="613.65" cy="771.86" r="0.95" fill="#e2a43a"/>
<circle cx="612.73" cy="783.12" r="0.95" fill="#e2a43a"/>
<circle cx="617.3" cy="786.92" r="0.95" fill="#e2a43a"/>
<circle cx="616.06" cy="790.06" r="0.95" fill="#e2a43a"/>
<circle cx="621.24" cy="790.16" r="0.95" fill="#e2a43a"/>
<circle cx="622.21" cy="776.31" r="0.95" fill="#e2a43a"/>
<circle cx="612.06" cy="785.96" r="0.95" fill="#e2a43a"/>
<circle cx="625.75" cy="781.45" r="0.95" fill="#e2a43a"/>
<circle cx="623.09" cy="776.91" r="0.95" fill="#e2a43a"/>
<circle cx="612.94" cy="776.77" r="0.95" fill="#e2a43a"/>
<circle cx="608.82" cy="775.35" r="0.95" fill="#e2a43a"/>
<circle cx="619.61" cy="785.61" r="0.95" fill="#e2a43a"/>
<circle cx="625.33" cy="784.54" r="0.95" fill="#e2a43a"/>
<circle cx="618" cy="780.5" r="5" fill="#e6b91e"/>
<circle cx="618" cy="780.7" r="3" fill="#cf8a0c"/>
<g transform="translate(617.7 912.6) rotate(-98)"><path d="M0,0 C4.95,-5.5 10.89,-11 22.44,-11 C29.7,-11 33,-5.5 33,0 C33,5.5 29.7,11 22.44,11 C10.89,11 4.95,5.5 0,0Z" fill="#d8ab08" stroke="#b08808" stroke-width="0.8"/><ellipse cx="19.14" cy="0" rx="8.91" ry="6.05" fill="#ddb10c"/></g>
<g transform="translate(617.7 912.6) rotate(-14)"><path d="M0,0 C4.5,-5.5 9.9,-11 20.4,-11 C27,-11 30,-5.5 30,0 C30,5.5 27,11 20.4,11 C9.9,11 4.5,5.5 0,0Z" fill="#d1a407" stroke="#b08808" stroke-width="0.8"/><ellipse cx="17.4" cy="0" rx="8.1" ry="6.05" fill="#ddb10c"/></g>
<g transform="translate(617.7 912.6) rotate(63)"><path d="M0,0 C4.95,-5.75 10.89,-11.5 22.44,-11.5 C29.7,-11.5 33,-5.75 33,0 C33,5.75 29.7,11.5 22.44,11.5 C10.89,11.5 4.95,5.75 0,0Z" fill="#d6a908" stroke="#b08808" stroke-width="0.8"/><ellipse cx="19.14" cy="0" rx="8.91" ry="6.33" fill="#ddb10c"/></g>
<g transform="translate(617.7 912.6) rotate(119)"><path d="M0,0 C4.8,-5.75 10.56,-11.5 21.76,-11.5 C28.8,-11.5 32,-5.75 32,0 C32,5.75 28.8,11.5 21.76,11.5 C10.56,11.5 4.8,5.75 0,0Z" fill="#cfa206" stroke="#b08808" stroke-width="0.8"/><ellipse cx="18.56" cy="0" rx="8.64" ry="6.33" fill="#ddb10c"/></g>
<g transform="translate(617.7 912.6) rotate(188)"><path d="M0,0 C4.8,-5.5 10.56,-11 21.76,-11 C28.8,-11 32,-5.5 32,0 C32,5.5 28.8,11 21.76,11 C10.56,11 4.8,5.5 0,0Z" fill="#d4a707" stroke="#b08808" stroke-width="0.8"/><ellipse cx="18.56" cy="0" rx="8.64" ry="6.05" fill="#ddb10c"/></g>
<circle cx="644" cy="901" r="3.2" fill="#d1a407" stroke="#b08808" stroke-width="0.6"/>
<circle cx="646" cy="908" r="2.6" fill="#d1a407" stroke="#b08808" stroke-width="0.6"/>
<circle cx="616.8" cy="906.16" r="6.3" fill="#8a2a08"/>
<circle cx="624.01" cy="911.03" r="6.3" fill="#8a2a08"/>
<circle cx="620.65" cy="918.39" r="6.3" fill="#8a2a08"/>
<circle cx="614.55" cy="918.29" r="6.3" fill="#8a2a08"/>
<circle cx="611.26" cy="911.7" r="6.3" fill="#8a2a08"/>
<circle cx="616.92" cy="907.05" r="5.4" fill="#2d0f11"/>
<circle cx="623.13" cy="911.25" r="5.4" fill="#2d0f11"/>
<circle cx="620.24" cy="917.59" r="5.4" fill="#2d0f11"/>
<circle cx="614.99" cy="917.5" r="5.4" fill="#2d0f11"/>
<circle cx="612.15" cy="911.82" r="5.4" fill="#2d0f11"/>
<circle cx="617.7" cy="912.6" r="7" fill="#2d0f11"/>
<circle cx="617.9" cy="913.2" r="3" fill="#8f6373"/>
<path d="M627,900 L633.5,891.5" stroke="#5a5248" stroke-width="1.6" stroke-linecap="round"/>
<text x="384.5" y="152.3" font-size="35.9" fill="#cf591d" font-weight="bold">Branch in <tspan font-style="italic">Rosa Spp.</tspan></text>
<text x="352.5" y="1032.3" font-size="35.85" fill="#0b6b2e" font-weight="bold">Basal Taxa in <tspan font-style="italic">Rosa Spp.</tspan></text>
<text x="349.6" y="1229.8" font-size="35.7" fill="#05509f" font-weight="bold">OutGroup in Rosoideae</text>
<text x="433.1" y="1400.3" font-size="35.9" fill="#555" font-weight="bold">OutGroup</text>
<text x="582.9" y="281.5" font-size="28.18" fill="#000" font-weight="bold">Rch</text>
<text x="662.2" y="279.3" font-size="28.17" fill="#000" font-weight="bold">Rwi</text>
<text x="590.7" y="416.5" font-size="28.11" fill="#000" font-weight="bold">Rru</text>
<text x="590.09" y="832.2" font-size="28.26" fill="#000" font-weight="bold">Rsp</text>
<text x="585.83" y="970" font-size="27.69" fill="#000" font-weight="bold">Rpe</text>
<text x="590.01" y="1131.5" font-size="32.41" fill="#000" font-weight="bold">Roc</text>
<text x="667.22" y="1132.5" font-size="32.36" fill="#000" font-weight="bold">Fve</text>
<text x="593.29" y="1328.5" font-size="32.34" fill="#000" font-weight="bold">Ath</text>
<text x="671.26" y="1328.3" font-size="32.2" fill="#000" font-weight="bold">Vvi</text>
<text x="742.94" y="1328.5" font-size="32.01" fill="#000" font-weight="bold">Mpr</text>
<text x="590.3" y="557.3" font-size="30.2" fill="#c3000f" font-weight="bold" textLength="69.7" lengthAdjust="spacingAndGlyphs" stroke="#c3000f" stroke-width="1.15" stroke-linejoin="round">RbY</text>
<text x="583" y="697.4" font-size="30.2" fill="#c3000f" font-weight="bold" textLength="77" lengthAdjust="spacingAndGlyphs" stroke="#c3000f" stroke-width="1.15" stroke-linejoin="round">RbW</text>
<rect x="738.7" y="231" width="4.3" height="4.6" fill="#000"/>
<rect x="746.74" y="231" width="4.3" height="4.6" fill="#000"/>
<rect x="754.78" y="231" width="4.3" height="4.6" fill="#000"/>
<rect x="762.82" y="231" width="4.3" height="4.6" fill="#000"/>
<rect x="770.86" y="231" width="4.3" height="4.6" fill="#000"/>
<rect x="778.9" y="231" width="4.3" height="4.6" fill="#000"/>
<rect x="673.9" y="371.4" width="4.3" height="4.6" fill="#000"/>
<rect x="681.94" y="371.4" width="4.3" height="4.6" fill="#000"/>
<rect x="689.98" y="371.4" width="4.3" height="4.6" fill="#000"/>
<rect x="698.02" y="371.4" width="4.3" height="4.6" fill="#000"/>
<rect x="706.06" y="371.4" width="4.3" height="4.6" fill="#000"/>
<rect x="714.1" y="371.4" width="4.3" height="4.6" fill="#000"/>
<rect x="677.1" y="787" width="4.3" height="4.6" fill="#000"/>
<rect x="685.14" y="787" width="4.3" height="4.6" fill="#000"/>
<rect x="693.18" y="787" width="4.3" height="4.6" fill="#000"/>
<rect x="701.22" y="787" width="4.3" height="4.6" fill="#000"/>
<rect x="709.26" y="787" width="4.3" height="4.6" fill="#000"/>
<rect x="717.3" y="787" width="4.3" height="4.6" fill="#000"/>
<rect x="683.7" y="930.7" width="4.3" height="4.6" fill="#000"/>
<rect x="691.74" y="930.7" width="4.3" height="4.6" fill="#000"/>
<rect x="699.78" y="930.7" width="4.3" height="4.6" fill="#000"/>
<rect x="707.82" y="930.7" width="4.3" height="4.6" fill="#000"/>
<rect x="715.86" y="930.7" width="4.3" height="4.6" fill="#000"/>
<rect x="723.9" y="930.7" width="4.3" height="4.6" fill="#000"/>
<text x="871.04" y="270.3" font-size="32" fill="#000" font-weight="bold" transform="matrix(1 0 0 1.04 0 -10.81)">5’</text>
<text x="1222.5" y="270.3" font-size="32" fill="#000" font-weight="bold" transform="matrix(1 0 0 1.04 0 -10.81)">3’</text>
<rect x="912.5" y="258.25" width="308" height="3.5" fill="#6a6a6a"/>
<polygon points="956,249.5 991,249.5 997,258 991,266.5 956,266.5" fill="#4f7cb1"/>
<polygon points="1019,251 1033.5,251 1039,260 1033.5,269 1019,269" fill="#e08a78"/>
<polygon points="1039.5,251 1110,251 1121,260 1110,269 1039.5,269" fill="#8fb6ba"/>
<polygon points="1121,250.5 1187,250.5 1196,258.75 1187,267 1121,267" fill="#e9b186"/>
<rect x="1019" y="258.25" width="171" height="3.5" fill="#000" opacity="0.07"/>
<path d="M1019.8,251 L1019.8,237.5 L1037.5,237.5 M1031.5,233 L1037.5,237.5 L1031.5,242" fill="none" stroke="#1a0f0f" stroke-width="1.8"/>
<text x="1019.77" y="231.3" font-size="23.48" fill="#0a6b2d" font-weight="bold">TSS</text>
<circle cx="1253" cy="290.5" r="8.7" fill="#e4918b"/>
<text x="870.04" y="397.3" font-size="32" fill="#000" font-weight="bold" transform="matrix(1 0 0 1.04 0 -15.89)">5’</text>
<text x="1221" y="396.8" font-size="32" fill="#000" font-weight="bold" transform="matrix(1 0 0 1.04 0 -15.87)">3’</text>
<rect x="910" y="386.25" width="308" height="3.5" fill="#6a6a6a"/>
<polygon points="1017.5,379.5 1032,379.5 1037.5,388.75 1032,398 1017.5,398" fill="#e08a78"/>
<polygon points="1038,380 1109,380 1120,389 1109,398 1038,398" fill="#8fb6ba"/>
<polygon points="1120,379.5 1164,379.5 1171,387.5 1164,395.5 1120,395.5" fill="#e9b186"/>
<rect x="1017.5" y="386.25" width="148.5" height="3.5" fill="#000" opacity="0.07"/>
<path d="M1018.3,379.5 L1018.3,367.5 L1037.5,367.5 M1031.5,363 L1037.5,367.5 L1031.5,372" fill="none" stroke="#1a0f0f" stroke-width="1.8"/>
<text x="1041.77" y="369.8" font-size="23.48" fill="#0a6b2d" font-weight="bold">TSS</text>
<circle cx="1288" cy="394" r="8.7" fill="#e4918b"/>
<circle cx="1239" cy="410" r="8.7" fill="#e4918b"/>
<circle cx="1267.5" cy="415" r="8.7" fill="#e4918b"/>
<text x="869.04" y="508.8" font-size="32" fill="#000" font-weight="bold" transform="matrix(1 0 0 1.04 0 -20.35)">5’</text>
<text x="1219.5" y="508.3" font-size="32" fill="#000" font-weight="bold" transform="matrix(1 0 0 1.04 0 -20.33)">3’</text>
<rect x="910" y="496.25" width="308" height="3.5" fill="#6a6a6a"/>
<polygon points="954,488 988.5,488 994.5,496.5 988.5,505 954,505" fill="#4f7cb1"/>
<polygon points="1016,490 1030.5,490 1036,498.75 1030.5,507.5 1016,507.5" fill="#e08a78"/>
<polygon points="1037,490 1108,490 1119,498.75 1108,507.5 1037,507.5" fill="#8fb6ba"/>
<polygon points="1119,489.5 1185,489.5 1194,497.5 1185,505.5 1119,505.5" fill="#e9b186"/>
<rect x="1016" y="496.25" width="172" height="3.5" fill="#000" opacity="0.07"/>
<path d="M1017,490 L1017,476 L1035.5,476 M1029.5,471.5 L1035.5,476 L1029.5,480.5" fill="none" stroke="#1a0f0f" stroke-width="1.8"/>
<text x="1018.77" y="469.8" font-size="23.48" fill="#0a6b2d" font-weight="bold">TSS</text>
<text x="974.01" y="530.7" font-size="23.52" fill="#0a6b2d" font-weight="bold">Exon1 Intron</text>
<text x="1130.9" y="530.7" font-size="23.68" fill="#0a6b2d" font-weight="bold">Exon2</text>
<circle cx="1249.5" cy="528" r="8.7" fill="#e4918b"/>
<text x="866.87" y="577.8" font-size="31.54" fill="#0a6b2d" font-weight="bold">MITE</text>
<polygon points="907.5,583 942,583 948,591.5 942,600 907.5,600" fill="#4f7cb1"/>
<path d="M933,601 Q953,612 957.5,633" fill="none" stroke="#1a0f0f" stroke-width="1.6"/>
<path d="M945.5,625.5 L958.3,634.3 L959,621.5" fill="none" stroke="#1a0f0f" stroke-width="1.6"/>
<polygon points="1004.8,560.5 1014.3,579 995.3,579" fill="#6b6b6b"/>
<rect x="1003.05" y="578" width="3.5" height="53" fill="#6b6b6b"/>
<text x="1042.86" y="586" font-size="31.49" fill="#555555" font-weight="bold">Step 4:</text>
<text x="1042.74" y="624" font-size="31.4" fill="#555555" font-weight="bold">CDS Formation and MITE insertion</text>
<text x="859.54" y="683.8" font-size="32" fill="#000" font-weight="bold" transform="matrix(1 0 0 1.04 0 -27.35)">5’</text>
<text x="1211" y="684.3" font-size="32" fill="#000" font-weight="bold" transform="matrix(1 0 0 1.04 0 -27.37)">3’</text>
<rect x="894.5" y="669.25" width="308.5" height="3.5" fill="#6a6a6a"/>
<rect x="1086" y="668" width="6" height="6" fill="#fff"/>
<rect x="1081" y="661" width="5" height="18.5" fill="#e08a78"/>
<polygon points="1092,661 1096,661 1101.5,670.25 1096,679.5 1092,679.5" fill="#e08a78"/>
<polygon points="1104,662.5 1160,662.5 1167,670.75 1160,679 1104,679" fill="#e9b186"/>
<rect x="1104" y="669.25" width="58" height="3.5" fill="#000" opacity="0.07"/>
<rect x="1279.5" y="668.75" width="69.5" height="5.5" fill="#b9403f"/>
<polygon points="1377.5,671.5 1348,657 1348,686" fill="#b9403f"/>
<path d="M1299.5,655 L1330.5,685 M1330,655 L1299.5,684.5" stroke="#000" stroke-width="3.2" fill="none"/>
<ellipse cx="1466.5" cy="674" rx="88.5" ry="35.2" fill="#e4918b"/>
<text x="1401.93" y="686.5" font-size="35.65" fill="#fff" font-weight="bold">SCREP</text>
<circle cx="1328" cy="702.5" r="8.7" fill="#e4918b"/>
<circle cx="1245" cy="713" r="8.7" fill="#e4918b"/>
<circle cx="1271" cy="716" r="8.7" fill="#e4918b"/>
<circle cx="1301" cy="715" r="8.7" fill="#e4918b"/>
<circle cx="1227.5" cy="725.5" r="8.7" fill="#e4918b"/>
<circle cx="1194" cy="730.5" r="8.7" fill="#e4918b"/>
<circle cx="1326" cy="732.5" r="8.7" fill="#e4918b"/>
<circle cx="1259.5" cy="743" r="8.7" fill="#e4918b"/>
<circle cx="1292" cy="746" r="8.7" fill="#e4918b"/>
<circle cx="1233" cy="752.5" r="8.7" fill="#e4918b"/>
<circle cx="1313" cy="754" r="8.7" fill="#e4918b"/>
<circle cx="1264.5" cy="769.5" r="8.7" fill="#e4918b"/>
<text x="859.04" y="805.8" font-size="32" fill="#000" font-weight="bold" transform="matrix(1 0 0 1.04 0 -32.23)">5’</text>
<text x="1209" y="806.3" font-size="32" fill="#000" font-weight="bold" transform="matrix(1 0 0 1.04 0 -32.25)">3’</text>
<rect x="900.5" y="793.25" width="307" height="3.5" fill="#6a6a6a"/>
<rect x="1013.5" y="792" width="2.5" height="6" fill="#fff"/>
<rect x="1006" y="788" width="7.5" height="16" fill="#e08a78"/>
<polygon points="1016,788 1020.5,788 1026.5,796 1020.5,804 1016,804" fill="#e08a78"/>
<polygon points="1026.5,788 1098,788 1108,796 1098,804 1026.5,804" fill="#8fb6ba"/>
<rect x="1108" y="787.5" width="56.2" height="15" fill="#e9b186"/>
<polygon points="1166,787.5 1175.5,787.5 1182.5,795 1175.5,802.5 1166,802.5" fill="#e9b186"/>
<rect x="1026" y="793.25" width="152" height="3.5" fill="#000" opacity="0.07"/>
<rect x="1164.2" y="787" width="1.8" height="16" fill="#fff"/>
<polygon points="1006,834 1015.5,852.5 996.5,852.5" fill="#6b6b6b"/>
<rect x="1004.25" y="851.5" width="3.5" height="53" fill="#6b6b6b"/>
<text x="1043.06" y="872.8" font-size="31.4" fill="#555555" font-weight="bold">Step3:</text>
<text x="1041.88" y="910.7" font-size="31.45" fill="#555555" font-weight="bold">Portion of Intron emergence</text>
<text x="859.54" y="970.3" font-size="32" fill="#000" font-weight="bold" transform="matrix(1 0 0 1.04 0 -38.81)">5’</text>
<text x="1211" y="970.8" font-size="32" fill="#000" font-weight="bold" transform="matrix(1 0 0 1.04 0 -38.83)">3’</text>
<rect x="897" y="957.25" width="307.5" height="3.5" fill="#6a6a6a"/>
<rect x="1084" y="956" width="6" height="6" fill="#fff"/>
<rect x="1080" y="950" width="4" height="17.5" fill="#e08a78"/>
<polygon points="1090,950 1094.5,950 1100,958.75 1094.5,967.5 1090,967.5" fill="#e08a78"/>
<polygon points="1101,950.5 1157,950.5 1164,958.75 1157,967 1101,967" fill="#e9b186"/>
<rect x="1101" y="957.25" width="58" height="3.5" fill="#000" opacity="0.07"/>
<polygon points="1006,1003 1015.5,1022 996.5,1022" fill="#6b6b6b"/>
<rect x="1004.25" y="1021" width="3.5" height="53.5" fill="#6b6b6b"/>
<text x="1043.06" y="1030.3" font-size="31.4" fill="#555555" font-weight="bold">Step2:</text>
<text x="1041.88" y="1068.2" font-size="31.46" fill="#555555" font-weight="bold">Portion of Exon1 emergence</text>
<text x="857.04" y="1158.8" font-size="32" fill="#000" font-weight="bold" transform="matrix(1 0 0 1.04 0 -46.35)">5’</text>
<text x="1211" y="1158.8" font-size="32" fill="#000" font-weight="bold" transform="matrix(1 0 0 1.04 0 -46.35)">3’</text>
<rect x="896" y="1146.25" width="306.5" height="3.5" fill="#6a6a6a"/>
<rect x="1082" y="1145" width="6" height="6" fill="#fff"/>
<rect x="1109" y="1145" width="6" height="6" fill="#fff"/>
<rect x="1075.5" y="1139" width="6.5" height="16" fill="#8fb6ba"/>
<polygon points="1088,1139 1097,1139 1101,1147 1097,1155 1088,1155" fill="#8fb6ba"/>
<rect x="1101" y="1140" width="8" height="15" fill="#e9b186"/>
<polygon points="1115,1140 1171.5,1140 1179.5,1147.5 1171.5,1155 1115,1155" fill="#e9b186"/>
<rect x="1115" y="1146.25" width="59" height="3.5" fill="#000" opacity="0.07"/>
<polygon points="1005,1203 1014.5,1222 995.5,1222" fill="#6b6b6b"/>
<rect x="1003.25" y="1221" width="3.5" height="54" fill="#6b6b6b"/>
<text x="1048.05" y="1239.2" font-size="31.74" fill="#555555" font-weight="bold">Step1:</text>
<text x="1047.37" y="1277.7" font-size="31.51" fill="#555555" font-weight="bold">Exon2 emergence</text>
<text x="859.04" y="1346.3" font-size="32" fill="#000" font-weight="bold" transform="matrix(1 0 0 1.04 0 -53.85)">5’</text>
<text x="1211" y="1346.3" font-size="32" fill="#000" font-weight="bold" transform="matrix(1 0 0 1.04 0 -53.85)">3’</text>
<rect x="898" y="1333.75" width="304.5" height="3.5" fill="#6a6a6a"/>
<rect x="1276" y="446.75" width="68" height="5.5" fill="#b9403f"/>
<polygon points="1372,449.5 1343,435 1343,464" fill="#b9403f"/>
<text x="1384.04" y="459.3" font-size="32" fill="#000" font-weight="bold" transform="matrix(1 0 0 1.04 0 -18.37)">5’</text>
<rect x="1417" y="447.25" width="112" height="3.5" fill="#6a6a6a"/>
<polygon points="1426,441 1440.5,441 1446,450 1440.5,459 1426,459" fill="#e08a78"/>
<polygon points="1447,442 1515.5,442 1522.5,450 1515.5,458 1447,458" fill="#e9b186"/>
<rect x="1426" y="447.25" width="92" height="3.5" fill="#000" opacity="0.07"/>
<text x="1537.5" y="461.8" font-size="32" fill="#000" font-weight="bold" transform="matrix(1 0 0 1.04 0 -18.47)">3’</text>
<text x="1425.46" y="419.3" font-size="31.39" fill="#555555" font-weight="bold">mRNA</text>
<rect x="1574.5" y="444.25" width="62.5" height="5.5" fill="#b9403f"/>
<polygon points="1665,447 1636,432.3 1636,461.7" fill="#b9403f"/>
<text x="1593.34" y="400.7" font-size="39.37" fill="#555555" font-weight="bold">Regulatory protein</text>
<ellipse cx="1770.5" cy="456.5" rx="88.7" ry="35.5" fill="#e4918b"/>
<text x="1699.92" y="470.3" font-size="35.95" fill="#fff" font-weight="bold">SCREP</text>
<rect x="1756.2" y="490" width="5.6" height="194" fill="#b9403f"/>
<rect x="1637.3" y="677.2" width="312.5" height="5.6" fill="#b9403f"/>
<rect x="1637.4" y="677.5" width="5.6" height="232.5" fill="#b9403f"/>
<polygon points="1625.4,908.5 1655.3,908.5 1640.3,938.4" fill="#b9403f"/>
<rect x="1944.3" y="677.5" width="5.4" height="517.5" fill="#b9403f"/>
<rect x="1908" y="794.9" width="39" height="5.2" fill="#b9403f"/>
<rect x="1908" y="777.5" width="6" height="40.5" fill="#b9403f"/>
<rect x="1905.3" y="993.4" width="41.7" height="5.2" fill="#b9403f"/>
<rect x="1905.3" y="975" width="6" height="41" fill="#b9403f"/>
<rect x="1909" y="1189.7" width="38" height="5.2" fill="#b9403f"/>
<rect x="1909" y="1171" width="6" height="41" fill="#b9403f"/>
<text x="1657.91" y="748.2" font-size="39.67" fill="#555555" font-weight="bold">Caffeic acid</text>
<text x="1660.34" y="870.2" font-size="39.45" fill="#555555" font-weight="bold">Ferulic acid</text>
<text x="1587.93" y="1074.2" font-size="39.28" fill="#555555" font-weight="bold">Coniferyl aldehyde</text>
<rect x="1776" y="779" width="114" height="35" fill="#e89996"/>
<rect x="1775.5" y="795" width="3" height="3" fill="#fff"/>
<text x="1782.75" y="809.7" font-size="31.29" fill="#333" font-weight="bold">COMT</text>
<rect x="1599" y="944.2" width="113.4" height="35.7" fill="#e89996"/>
<rect x="1598.5" y="960.55" width="3" height="3" fill="#fff"/>
<text x="1619.38" y="972.2" font-size="31.36" fill="#333" font-weight="bold">REF</text>
<rect x="1780" y="977.5" width="114" height="35.5" fill="#e89996"/>
<rect x="1779.5" y="993.75" width="3" height="3" fill="#fff"/>
<text x="1793.24" y="1009.7" font-size="31.59" fill="#333" font-weight="bold">CCR</text>
<rect x="1778" y="1174" width="114.5" height="35" fill="#e89996"/>
<rect x="1777.5" y="1190" width="3" height="3" fill="#fff"/>
<text x="1797.38" y="1204.2" font-size="31.42" fill="#333" font-weight="bold">EGS</text>
<polygon points="1759,832.5 1769,814 1749,814" fill="#000"/>
<rect x="1756.75" y="765" width="4.5" height="50" fill="#000"/>
<polygon points="1730.6,889.7 1740.2,908.5 1721,908.5" fill="#000"/>
<rect x="1728.3" y="907.5" width="4.6" height="126" fill="#000"/>
<polygon points="1763.7,954.8 1773.3,936 1754.1,936" fill="#000"/>
<line x1="1763.7" y1="886.8" x2="1763.7" y2="937" stroke="#000" stroke-width="4.5" stroke-dasharray="10.6 4.3"/>
<polygon points="1763.7,1037.3 1773.3,1018.5 1754.1,1018.5" fill="#000"/>
<rect x="1761.45" y="968.8" width="4.5" height="50.7" fill="#000"/>
<polygon points="1759,1152 1768.5,1134 1749.5,1134" fill="#000"/>
<line x1="1759" y1="1087.5" x2="1759" y2="1135" stroke="#000" stroke-width="4.5" stroke-dasharray="10.6 4.3"/>
<polygon points="1759,1232 1768.8,1212.5 1749.2,1212.5" fill="#000"/>
<rect x="1756.75" y="1164" width="4.5" height="49.5" fill="#000"/>
<g fill="none" stroke="#130a0a" stroke-width="1.9" stroke-linecap="round" stroke-linejoin="round">
<path d="M1723,1286 L1753,1268 L1783,1286 L1783,1321 L1753,1339 L1723,1321 Z"/>
<path d="M1729.2,1290 L1753,1275.8 M1776.8,1290 L1776.8,1317.2 M1729.2,1317 L1753,1331.2"/>
<path d="M1703.5,1275.5 L1723,1286 M1703.5,1332 L1723,1321"/>
<path d="M1690.5,1239.5 L1690.5,1257.5"/>
<path d="M1783,1286 L1813,1268 L1844,1286 L1871,1271 L1871,1247.5"/>
<path d="M1847,1290.5 L1872.5,1276"/>
</g>
<text x="1683.88" y="1235.7" font-size="28.05" fill="#130a0a" font-weight="bold">CH3</text>
<text x="1859.89" y="1244.2" font-size="27.76" fill="#130a0a" font-weight="bold">CH2</text>
<text x="1682.91" y="1276.2" font-size="27.34" fill="#130a0a" font-weight="bold">O</text>
<text x="1659.11" y="1344.2" font-size="28.06" fill="#130a0a" font-weight="bold">HO</text>
<circle cx="1780" cy="1352.5" r="8.7" fill="#e4918b"/>
<circle cx="1749" cy="1374" r="8.7" fill="#e4918b"/>
<circle cx="1721" cy="1383" r="8.7" fill="#e4918b"/>
<circle cx="1777.5" cy="1387.5" r="8.7" fill="#e4918b"/>
<circle cx="1819" cy="1374" r="8.7" fill="#e4918b"/>
<text x="1696.56" y="1435.7" font-size="43.6" fill="#a6081c" font-weight="bold">Eugenol</text>
</svg>
<div class="cl ct" style="top:1502.5px;font-size:29.9px;">Figure 7.<span style="margin-left:5.1px"></span> Diversification of rose scent through evolution of a newly originated taxon-restricted gene</div>
<div class="cl" style="top:1543px;">Firstly, the emergence of the second exon precedes the formation of the first exon and intron of <i>SCREP</i> during gene birth. Finally, the recruitment of MITE in the</div>
<div class="cl" style="top:1582.26px;word-spacing:-0.35px;"><i>SCREP</i> promoter significantly enhances the expression of <i>SCREP</i>. SCREP represses the biosynthesis of eugenol. The red dots indicate the presence of eugenol.</div>
<div class="cl" style="top:1621.52px;">The yellow block represents the second exon of <i>SCREP</i>, while the red and green blocks denote the first exon and intron of <i>SCREP</i>, respectively. The blue block</div>
<div class="cl" style="top:1660.78px;">illustrates the MITE transposon. The used species are as follows: <i>Arabidopsis thaliana</i> (Ath), <i>Vitis vinifera</i> (Vvi), <i>Malus prunifolia</i> (Mpr), <i>Rubus occidentalis</i> (Roc),</div>
<div class="cl" style="top:1700.04px;word-spacing:-0.6px;"><i>Fragaria vesca</i> (Fve), <i>Rosa persica</i> (Rpe), <i>Rosa spinosissima</i> (Rsp), <i>Rosa chinensis</i> (Rch), <i>Rosa wichuraiana</i> (Rwi), <i>Rosa banksiae</i> yellow (RbY), <i>Rosa rugosa</i> (Rru),</div>
<div class="cl" style="top:1739.3px;text-align:left;text-align-last:left;word-spacing:0.9px;">and <i>Rosa banksiae</i> white (RbW).</div>
</body></html>
